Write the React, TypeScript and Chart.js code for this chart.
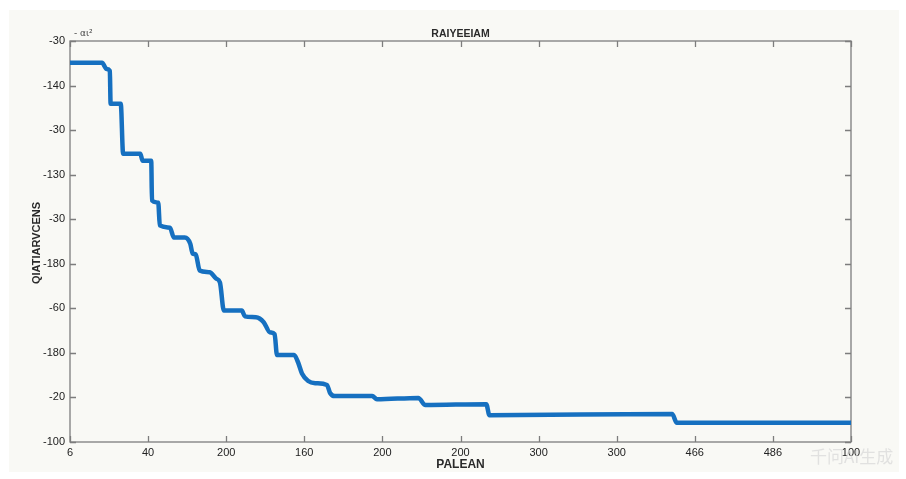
import React, { useEffect, useRef } from "react";
import { Chart, registerables } from "chart.js";

Chart.register(...registerables);

// ---- data ----
const xTickLabels = ["6", "40", "200", "160", "200", "200", "300", "300", "466", "486", "100"];
const yTickLabels = ["-100", "-20", "-180", "-60", "-180", "-30", "-130", "-30", "-140", "-30"];

const curveX = [
  0, 0.41, 0.47, 0.51, 0.52, 0.65, 0.68, 0.9, 0.93, 1.04, 1.05, 1.13, 1.15, 1.28, 1.33, 1.47,
  1.54, 1.57, 1.61, 1.66, 1.79, 1.87, 1.92, 1.97, 2.2, 2.24, 2.38, 2.48, 2.56, 2.62, 2.65, 2.87,
  2.92, 2.97, 3.05, 3.14, 3.29, 3.33, 3.39, 3.87, 3.93, 4.46, 4.55, 5.33, 5.37, 7.71, 7.77, 10,
];
const curveY = [
  8.51, 8.51, 8.37, 8.33, 7.59, 7.59, 6.47, 6.47, 6.31, 6.31, 5.42, 5.37, 4.86, 4.81, 4.59, 4.59,
  4.45, 4.23, 4.21, 3.85, 3.81, 3.67, 3.58, 2.95, 2.95, 2.82, 2.8, 2.69, 2.46, 2.42, 1.95, 1.95,
  1.79, 1.54, 1.37, 1.32, 1.28, 1.1, 1.03, 1.03, 0.96, 0.99, 0.83, 0.85, 0.6, 0.63, 0.43, 0.43,
];

const chartTitle = "RAIYEEIAM";
const xAxisTitle = "PALEAN";
const yAxisTitle = "QIATIARVCENS";
const exponentLabel = "- αι²";
const watermarkText = "千问AI生成";

const W = 906;
const H = 479;

const framePlugin = {
  id: "matlabFrame",
  beforeDatasetsDraw(chart: any) {
    const { ctx, chartArea, scales } = chart;
    const { left, right, top, bottom } = chartArea;
    ctx.save();
    ctx.strokeStyle = "#7d7d7d";
    ctx.lineWidth = 1.3;
    ctx.strokeRect(left, top, right - left, bottom - top);
    const tl = 6;
    ctx.beginPath();
    scales.x.ticks.forEach((t: any) => {
      const px = Math.round(scales.x.getPixelForValue(t.value)) + 0.5;
      ctx.moveTo(px, bottom);
      ctx.lineTo(px, bottom - tl);
      ctx.moveTo(px, top);
      ctx.lineTo(px, top + tl);
    });
    scales.y.ticks.forEach((t: any) => {
      const py = Math.round(scales.y.getPixelForValue(t.value)) + 0.5;
      ctx.moveTo(left, py);
      ctx.lineTo(left + tl, py);
      ctx.moveTo(right, py);
      ctx.lineTo(right - tl, py);
    });
    ctx.stroke();
    ctx.restore();
  },
  afterDraw(chart: any) {
    const { ctx, chartArea } = chart;
    const { left, right, top } = chartArea;
    const cx = (left + right) / 2;
    ctx.save();
    ctx.fillStyle = "#2a2a2a";
    ctx.textAlign = "center";
    ctx.textBaseline = "middle";
    ctx.font = "bold 10.5px 'Liberation Sans', Arial, sans-serif";
    ctx.fillText(chartTitle, cx, top - 7);

    ctx.font = "bold 12px 'Liberation Sans', Arial, sans-serif";
    ctx.fillText(xAxisTitle, cx, 465);

    ctx.save();
    ctx.translate(37, 243);
    ctx.rotate(-Math.PI / 2);
    ctx.font = "bold 11px 'Liberation Sans', Arial, sans-serif";
    ctx.fillText(yAxisTitle, 0, 0);
    ctx.restore();

    ctx.textAlign = "left";
    ctx.font = "9px 'DejaVu Sans', sans-serif";
    ctx.fillStyle = "#444";
    ctx.fillText(exponentLabel, left + 4, top - 7);

    ctx.font = "17px 'Noto Sans CJK SC', sans-serif";
    ctx.fillStyle = "rgba(215,215,215,0.7)";
    ctx.fillText(watermarkText, 810, 457);
    ctx.restore();
  },
};

export default function App() {
  const ref = useRef<HTMLCanvasElement | null>(null);

  useEffect(() => {
    if (!ref.current) return;
    const points = curveX.map((x, i) => ({ x, y: curveY[i] }));
    const tickFont = { family: "'Liberation Sans', Arial, sans-serif", size: 11 };
    const chart = new Chart(ref.current, {
      type: "line",
      data: {
        datasets: [
          {
            data: points,
            borderColor: "#1670C0",
            borderWidth: 4.5,
            pointRadius: 0,
            cubicInterpolationMode: "monotone",
            fill: false,
            borderCapStyle: "round",
            borderJoinStyle: "round",
          },
        ],
      },
      options: {
        animation: false,
        responsive: false,
        maintainAspectRatio: false,
        layout: { padding: { left: 0, top: 41, right: 55, bottom: 0 } },
        plugins: { legend: { display: false }, tooltip: { enabled: false }, title: { display: false } },
        scales: {
          x: {
            type: "linear",
            min: 0,
            max: 10,
            border: { display: false },
            grid: { display: false, drawTicks: false },
            ticks: {
              stepSize: 1,
              autoSkip: false,
              maxRotation: 0,
              padding: 4,
              color: "#222",
              font: tickFont,
              callback: (v: any) => xTickLabels[Math.round(Number(v))] ?? "",
            },
            afterFit: (s: any) => {
              s.height = 37;
            },
          },
          y: {
            type: "linear",
            min: 0,
            max: 9,
            border: { display: false },
            grid: { display: false, drawTicks: false },
            ticks: {
              stepSize: 1,
              autoSkip: false,
              padding: 5,
              color: "#222",
              font: tickFont,
              callback: (v: any) => yTickLabels[Math.round(Number(v))] ?? "",
            },
            afterFit: (s: any) => {
              s.width = 70;
            },
          },
        },
      },
      plugins: [framePlugin],
    } as any);
    return () => chart.destroy();
  }, []);

  return (
    <div style={{ position: "fixed", left: 0, top: 0, width: W, height: H, background: "#ffffff" }}>
      <div
        style={{
          position: "absolute",
          left: 9,
          top: 10,
          width: 890,
          height: 462,
          background: "#f9f9f5",
        }}
      />
      <canvas
        ref={ref}
        width={W}
        height={H}
        style={{ position: "absolute", left: 0, top: 0, width: W, height: H }}
      />
    </div>
  );
}
